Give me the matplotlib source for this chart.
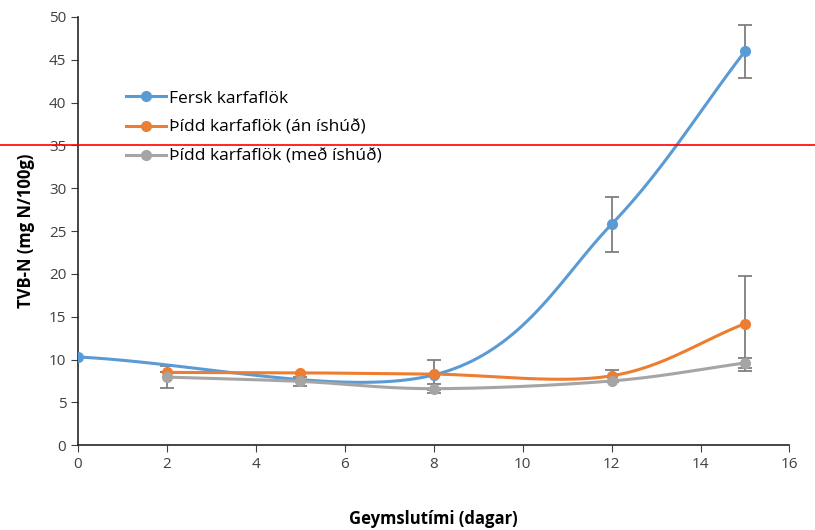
import matplotlib
matplotlib.use("Agg")
import matplotlib.pyplot as plt
import numpy as np
from matplotlib.lines import Line2D

plt.rcParams['font.family'] = ['Open Sans', 'DejaVu Sans']

# TVB-N gildi (mg N/100g) eftir geymsludögum
fersk_dagar = [0, 8, 12, 15]
fersk_tvbn = [10.3, 8.2, 25.8, 46.0]
fersk_sd = [0, 1.8, 3.2, 3.1]

thidd_dagar = [2, 5, 8, 12, 15]
an_ishud = [8.5, 8.45, 8.3, 8.1, 14.2]
an_ishud_sd = [0, 0, 0, 0.7, 5.5]
med_ishud = [7.95, 7.45, 6.6, 7.5, 9.6]
med_ishud_sd = [1.25, 0.5, 0.5, 0, 0.6]

heiti = ['Fersk karfaflök', 'Þídd karfaflök (án íshúð)', 'Þídd karfaflök (með íshúð)']
litir = ['#5b9bd5', '#ed7d31', '#a5a5a5']
mork = 35


def smooth(x, y, n=40):
    # catmull-rom spline through the points, like excel's smoothed line
    x = np.asarray(x, float)
    y = np.asarray(y, float)
    px = np.concatenate([[2 * x[0] - x[1]], x, [2 * x[-1] - x[-2]]])
    py = np.concatenate([[2 * y[0] - y[1]], y, [2 * y[-1] - y[-2]]])
    xs, ys = [], []
    for i in range(1, len(px) - 2):
        t = np.linspace(0, 1, n)
        p0, p1, p2, p3 = [np.array([px[j], py[j]]) for j in range(i - 1, i + 3)]
        m1 = (p2 - p0) / 6
        m2 = (p3 - p1) / 6
        c1 = p1 + m1
        c2 = p2 - m2
        b = ((1 - t) ** 3)[:, None] * p1 + (3 * (1 - t) ** 2 * t)[:, None] * c1 \
            + (3 * (1 - t) * t ** 2)[:, None] * c2 + (t ** 3)[:, None] * p2
        xs.append(b[:, 0])
        ys.append(b[:, 1])
    return np.concatenate(xs), np.concatenate(ys)


fig = plt.figure(figsize=(8.15, 5.30), dpi=100)
ax = fig.add_axes([0.0957, 0.160, 0.873, 0.808])

reidir = [(fersk_dagar, fersk_tvbn, fersk_sd),
          (thidd_dagar, an_ishud, an_ishud_sd),
          (thidd_dagar, med_ishud, med_ishud_sd)]

for (x, y, sd), lit, h in zip(reidir, litir, heiti):
    sx, sy = smooth(x, y)
    ax.plot(sx, sy, color=lit, lw=2.2, zorder=3)
    ax.errorbar(x, y, yerr=sd, fmt='none', ecolor='#7f7f7f', elinewidth=1.3,
                capsize=5, capthick=1.3, zorder=2)
    ax.plot(x, y, 'o', color=lit, ms=7, zorder=4)

handles = [Line2D([0], [0], color=c, lw=2.2, marker='o', ms=7) for c in litir]
ax.legend(handles, heiti, loc='upper left', bbox_to_anchor=(0.045, 0.865),
          frameon=False, fontsize=12.5, handlelength=2.3, handletextpad=0.2,
          labelspacing=0.75)

ax.set_xlim(0, 16)
ax.set_ylim(0, 50)
ax.set_xticks(np.arange(0, 17, 2))
ax.set_yticks(np.arange(0, 51, 5))
ax.tick_params(labelsize=11, colors='#404040', direction='out', length=5)
for s in ['top', 'right']:
    ax.spines[s].set_visible(False)
for s in ['left', 'bottom']:
    ax.spines[s].set_color('#262626')
    ax.spines[s].set_linewidth(1.2)

ax.set_xlabel('Geymslutími (dagar)', fontsize=12, fontweight='bold', labelpad=27)
ax.set_ylabel('TVB-N (mg N/100g)', fontsize=12, fontweight='bold', labelpad=10)

# rauð viðmiðunarlína við 35 mg N/100g yfir alla myndina
y_fig = fig.transFigure.inverted().transform(ax.transData.transform((0, mork)))[1]
fig.add_artist(Line2D([0, 1], [y_fig, y_fig], color='red', lw=1.2,
                      transform=fig.transFigure))

fig.savefig('out.png', dpi=100)
